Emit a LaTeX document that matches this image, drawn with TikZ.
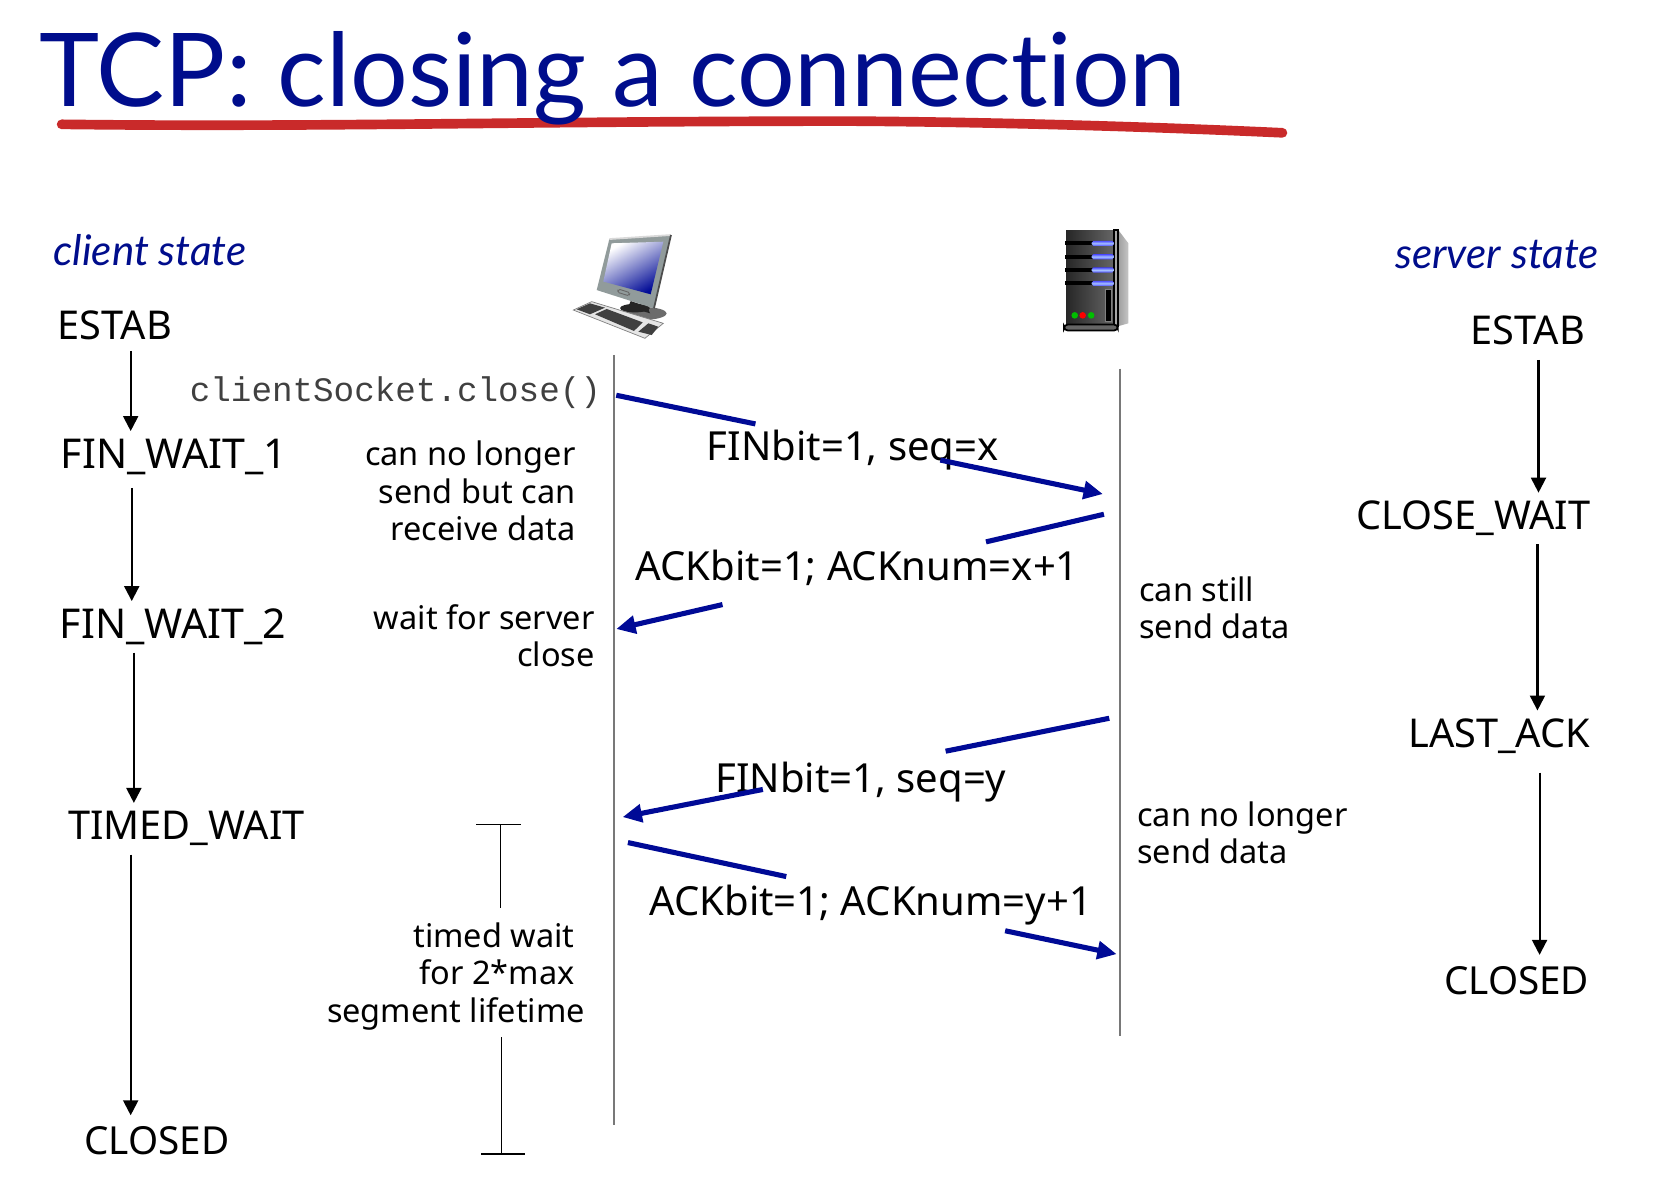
\documentclass[tikz,border=0pt]{standalone}
\usepackage{fontspec}
\setmainfont{Noto Sans}
\newfontfamily\gillfont[Ligatures=CommonOff]{Lato}
\setmonofont{Liberation Mono}
\usetikzlibrary{arrows.meta}

\definecolor{slideblue}{RGB}{0,13,140}
\definecolor{msgblue}{RGB}{0,10,150}
\definecolor{markred}{RGB}{201,42,42}
\definecolor{lifegray}{RGB}{120,120,120}
\definecolor{bezelgray}{RGB}{145,155,155}

\tikzset{
  statelabel/.style={inner sep=0pt, minimum height=29pt, font=\fontsize{22.6}{26}\selectfont},
  waitlabel/.style={statelabel, font=\fontsize{23.4}{26}\selectfont},
  closedlabel/.style={statelabel, font=\fontsize{22}{26}\selectfont},
  statearrow/.style={-{Triangle[length=8.5pt,width=8.5pt]}, line width=1.2pt},
  msglabel/.style={inner sep=0pt, anchor=west, font=\fontsize{22.8}{26}\selectfont},
  msgline/.style={draw=msgblue, line width=2.9pt},
  msgarrow/.style={msgline, -{Triangle[length=11pt,width=10pt]}},
  notelabel/.style={inner sep=0pt, font=\fontsize{18.5}{21.2}\selectfont},
  lifeline/.style={draw=lifegray, line width=0.9pt},
  modelabel/.style={inner sep=0pt, text=slideblue, font=\gillfont\itshape\fontsize{24}{28}\selectfont},
  bayslot/.style={fill=black},
  baylight/.style={top color=blue!70, bottom color=blue!70, middle color=cyan!30!blue!35!white}
}

\begin{document}
\begin{tikzpicture}[x=0.02125cm, y=-0.02125cm]

\useasboundingbox (0,0) rectangle (1568,1129.4);

% title
\draw [draw=markred, line width=5.5pt, line cap=round] (58,117) .. controls (300,120) and (500,114) .. (800,114) .. controls (950,115) and (1100,120) .. (1207,125);
\node (title) [inner sep=0pt, anchor=west, text=slideblue, font=\gillfont\fontsize{58}{66}\selectfont] at (37,74) {TCP: closing a connection};

\node (clientstate) [modelabel, anchor=west] at (50,235) {client state};
\node (serverstate) [modelabel, anchor=east] at (1505,240) {server state};

% client host
\fill [gray!85!black] (605.5,295) ellipse (22 and 6);
\fill [black!85] (597.6,290) ellipse (14 and 4);
\fill [black!85] (593.6,283.3) -- (609.2,288.6) -- (611.8,294.9) -- (591.4,288.7) -- cycle;
\fill [bezelgray] (573.5,225) -- (631.5,221.2) -- (615.5,290.2) -- (561.6,273) -- cycle;
\draw [gray!30, line width=1pt] (573.5,225) -- (631.5,221.2);
\draw [black!70, line width=1pt] (631.5,221.2) -- (615.5,290.2);
\shade [left color=white, middle color=msgblue!25!white, right color=msgblue, shading angle=30] (575.7,229) -- (624.3,227.5) -- (612.4,277) -- (567.8,265) -- cycle;
\draw [black!60, line width=0.5pt, rounded corners=1pt] (582,272) -- (593,275.5) -- (592,278.5) -- (581,275) -- cycle;
\filldraw [fill=gray!20, draw=gray] (539.6,291.8) -- (556.9,283.9) -- (624.3,304.3) -- (607,318.4) -- cycle;
\fill [black!75] (542.7,291.1) -- (555.3,285.5) -- (569.4,289.6) -- (555.3,295.8) -- cycle;
\fill [black!75] (560,295.8) -- (571,290.8) -- (604.9,303.4) -- (596.7,311.5) -- cycle;
\fill [black!75] (600.8,312.2) -- (610.2,304.3) -- (619.6,307.5) -- (613.4,315.3) -- cycle;

% server host
\shade [left color=gray!75, right color=gray!45] (1052.5,216.5) -- (1062,229) -- (1062,304.3) -- (1052.5,307) -- cycle;
\shade [left color=black!85, middle color=gray!85!black, right color=black!60] (1003.3,216.5) rectangle (1048.4,306.8);
\filldraw [fill=gray!70, draw=black, line width=0.8pt] (1048.6,216.5) rectangle (1052.3,306.8);
\filldraw [fill=black!60, draw=black, line width=1pt, rounded corners=2pt] (1001.5,305.5) rectangle (1052,311);
\fill [bayslot] (1002.5,227) rectangle (1029,230.8);
\fill [bayslot] (1002.5,239.7) rectangle (1029,243.5);
\fill [bayslot] (1002.5,252.2) rectangle (1029,256);
\fill [bayslot] (1002.5,264.8) rectangle (1029,268.6);
\shade [baylight, rounded corners=1pt] (1027.5,226.6) rectangle (1048.4,231.4);
\shade [baylight, rounded corners=1pt] (1027.5,239.2) rectangle (1048.4,244);
\shade [baylight, rounded corners=1pt] (1027.5,251.7) rectangle (1048.4,256.5);
\shade [baylight, rounded corners=1pt] (1027.5,264.3) rectangle (1048.4,269.1);
\filldraw [fill=black, draw=gray, line width=0.5pt] (1040,272) rectangle (1045.6,302.7);
\fill [green!75!black] (1011.5,296.8) circle (3.1);
\fill [red] (1019,296.8) circle (3.1);
\fill [green!75!black] (1027,296.8) circle (3.1);

% lifelines
\coordinate (clienttop) at (578,334);
\coordinate (clientbot) at (578,1059);
\coordinate (servertop) at (1054,347);
\coordinate (serverbot) at (1054,975);
\draw [lifeline] (clienttop) -- (clientbot);
\draw [lifeline] (servertop) -- (serverbot);

% client states
\node (cestab) [statelabel, anchor=west] at (54,306) {ESTAB};
\node (cfinone) [waitlabel, anchor=west] at (57,430) {FIN\_WAIT\_1};
\node (cfintwo) [waitlabel, anchor=west] at (56,590) {FIN\_WAIT\_2};
\node (ctimed) [statelabel, anchor=west] at (64,780) {TIMED\_WAIT};
\node (cclosed) [closedlabel, anchor=west] at (79,1074) {CLOSED};

\draw [statearrow] (cestab.south -| 123,0) -- (cfinone.north -| 123,0);
\draw [statearrow, shorten <=3pt] (cfinone.south -| 124,0) -- (cfintwo.north -| 124,0);
\draw [statearrow] (cfintwo.south -| 126,0) -- (ctimed.north -| 126,0);
\draw [statearrow] (ctimed.south -| 123,0) -- (cclosed.north -| 123,0);

% server states
\node (sestab) [statelabel, anchor=east] at (1492,311) {ESTAB};
\node (sclosewait) [statelabel, anchor=east] at (1497,488) {CLOSE\_WAIT};
\node (slastack) [statelabel, anchor=east] at (1497,693) {LAST\_ACK};
\node (sclosed) [closedlabel, anchor=east] at (1496,923) {CLOSED};

\draw [statearrow, shorten <=2pt] (sestab.south -| 1448,0) -- (sclosewait.north -| 1448,0);
\draw [statearrow] (sclosewait.south -| 1447,0) -- (slastack.north -| 1447,0);
\draw [statearrow, shorten <=6pt] (slastack.south -| 1449,0) -- (sclosed.north -| 1449,0);

% client notes
\node (closecall) [inner sep=0pt, anchor=east, text=black!75, font=\ttfamily\fontsize{19.5}{22}\selectfont] at (566,370) {clientSocket.close()};
\node (nosend) [notelabel, anchor=east, align=right] at (542,462) {can no longer\\send but can\\receive data};
\node (waitclose) [notelabel, anchor=east, align=right] at (560,598) {wait for server\\close};

% server notes
\node (stillsend) [notelabel, anchor=west, align=left] at (1072,572) {can still\\send data};
\node (nomore) [notelabel, anchor=west, align=left] at (1070,784) {can no longer\\send data};

% timed wait bracket
\node (timedwait) [notelabel, anchor=east, align=right, inner ysep=4pt] at (551,919) {timed wait\rule{6pt}{0pt}\\for 2*max\rule{6pt}{0pt}\\segment lifetime};
\coordinate (tickatop) at (448,776);
\coordinate (tickbtop) at (490,776);
\coordinate (tickabot) at (453,1086);
\coordinate (tickbbot) at (494,1086);
\draw [line width=0.8pt] (tickatop) -- (tickbtop);
\draw [line width=0.8pt, shorten >=4.2pt] (471,776) -- (timedwait.north -| 471,0);
\draw [line width=0.8pt] (timedwait.south -| 472,0) -- (472,1086);
\draw [line width=0.8pt] (tickabot) -- (tickbbot);

% first FIN
\coordinate (fincstart) at (580,372);
\coordinate (fincgap) at (711,399);
\coordinate (fincresume) at (885,433);
\coordinate (fincend) at (1038,465);
\draw [msgline] (fincstart) -- (fincgap);
\node (fincmsg) [msglabel] at (665,424) {FINbit=1, seq=x};
\draw [msgarrow] (fincresume) -- (fincend);

% ACK of it
\coordinate (acksstart) at (1039,484);
\coordinate (acksgap) at (928,510);
\coordinate (acksresume) at (680,569);
\coordinate (acksend) at (580,592);
\draw [msgline] (acksstart) -- (acksgap);
\node (acksmsg) [msglabel] at (598,534) {ACKbit=1; ACKnum=x+1};
\draw [msgarrow] (acksresume) -- (acksend);

% second FIN
\coordinate (finsstart) at (1044,676);
\coordinate (finsgap) at (890,707);
\coordinate (finsresume) at (718,743);
\coordinate (finsend) at (586,769);
\draw [msgline] (finsstart) -- (finsgap);
\node (finsmsg) [msglabel] at (673,736) {FINbit=1, seq=y};
\draw [msgarrow] (finsresume) -- (finsend);

% last ACK
\coordinate (ackcstart) at (591,793);
\coordinate (ackcgap) at (740,825);
\coordinate (ackcresume) at (946,876);
\coordinate (ackcend) at (1051,898);
\draw [msgline] (ackcstart) -- (ackcgap);
\node (ackcmsg) [msglabel] at (611,852) {ACKbit=1; ACKnum=y+1};
\draw [msgarrow] (ackcresume) -- (ackcend);

\end{tikzpicture}
\end{document}
